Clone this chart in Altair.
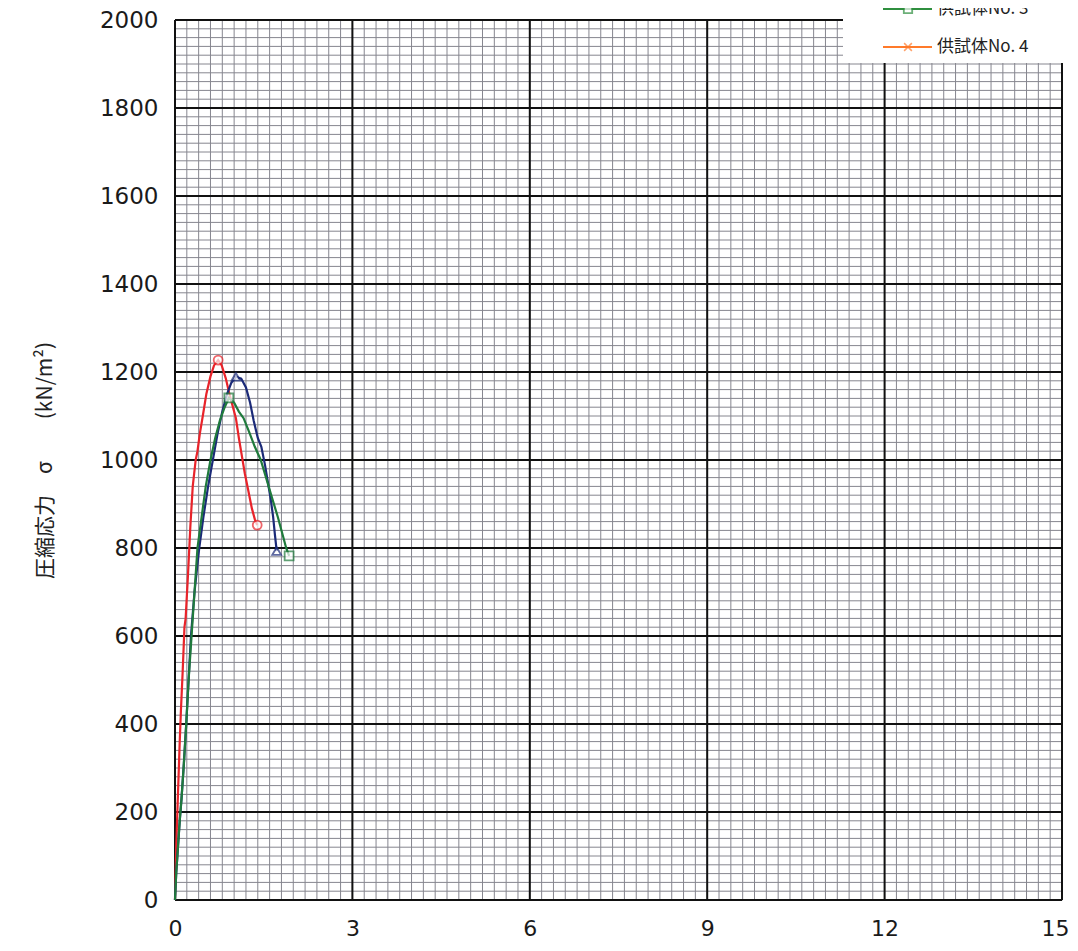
import altair as alt
import pandas as pd
import numpy as np

# ---- data (strain %, stress kN/m2) ----
red_x = [0, 0.01, 0.02, 0.04, 0.06, 0.08, 0.10, 0.13, 0.16, 0.18, 0.22, 0.26, 0.30, 0.35, 0.38, 0.42, 0.47, 0.53, 0.60, 0.66, 0.73,
         0.79, 0.86, 0.92, 0.98, 1.03, 1.08, 1.13, 1.18, 1.24, 1.30, 1.35, 1.39]
red_y = [0, 60, 120, 200, 280, 360, 430, 520, 620, 640, 740, 850, 940, 1000, 1020, 1060, 1100, 1150, 1190, 1215, 1227,
         1215, 1185, 1150, 1120, 1095, 1050, 1010, 970, 930, 890, 865, 852]

blue_x = [0, 0.02, 0.05, 0.08, 0.11, 0.15, 0.19, 0.23, 0.27, 0.33, 0.41, 0.48, 0.56, 0.64, 0.72, 0.80, 0.88, 0.95, 1.03,
          1.12, 1.20, 1.27, 1.33, 1.40, 1.46, 1.52, 1.57, 1.62, 1.66, 1.69, 1.72]
blue_y = [0, 60, 120, 180, 230, 310, 400, 500, 600, 700, 800, 870, 940, 1000, 1060, 1110, 1150, 1175, 1189,
          1185, 1165, 1130, 1090, 1050, 1030, 990, 950, 910, 870, 830, 793]

green_x = [0, 0.02, 0.05, 0.08, 0.11, 0.15, 0.19, 0.23, 0.28, 0.33, 0.38, 0.45, 0.52, 0.60, 0.68, 0.76, 0.84, 0.91,
           1.00, 1.08, 1.16, 1.25, 1.35, 1.45, 1.55, 1.65, 1.74, 1.82, 1.88, 1.93]
green_y = [0, 60, 120, 180, 230, 310, 400, 500, 600, 700, 800, 870, 940, 1000, 1050, 1090, 1120, 1141,
           1130, 1110, 1095, 1065, 1030, 1000, 955, 910, 870, 830, 800, 782]

series = ["No1", "No2", "No3"]
colors = ["#e8232a", "#1b2a78", "#1f7a3c"]
shapes = ["circle", "triangle-up", "square"]

x_ticks = [0, 3, 6, 9, 12, 15]
y_ticks = list(range(0, 2001, 200))

legend_labels = ["供試体No. 3", "供試体No. 4"]
legend_colors = ["#2f8f3f", "#ff7a2a"]

# ---- tables ----
rows = []
for name, xs, ys in zip(series, [red_x, blue_x, green_x], [red_y, blue_y, green_y]):
    for i, (xv, yv) in enumerate(zip(xs, ys)):
        rows.append({"s": name, "i": i, "x": xv, "y": yv})
df = pd.DataFrame(rows)

mk = []
for name, xs, ys in zip(series, [red_x, blue_x, green_x], [red_y, blue_y, green_y]):
    k = int(np.argmax(ys))
    mk.append({"s": name, "x": xs[k], "y": ys[k]})
    mk.append({"s": name, "x": xs[-1], "y": ys[-1]})
mk = pd.DataFrame(mk)

minor_x = pd.DataFrame({"x": np.round(np.arange(0, 15.001, 0.2), 3)})
minor_y = pd.DataFrame({"y": np.arange(0, 2001, 20)})
major_x = pd.DataFrame({"x": x_ticks})
major_y = pd.DataFrame({"y": y_ticks})

xs_ = alt.Scale(domain=[0, 15], nice=False, zero=False)
ys_ = alt.Scale(domain=[0, 2000], nice=False)
cscale = alt.Scale(domain=series, range=colors)

x_axis = alt.Axis(values=x_ticks, title=None, grid=False, ticks=False, domain=False,
                  labelFontSize=22, labelFont="DejaVu Sans", labelColor="#1a1a1a",
                  labelPadding=18, labelFlush=False,
                  labelOffset={"condition": {"test": "datum.value == 15", "value": -7}, "value": 0})
y_axis = alt.Axis(values=y_ticks, format="d", title="圧縮応力　σ　　(kN/m²)",
                  grid=False, ticks=False, domain=False,
                  labelFontSize=23, labelFont="DejaVu Sans", labelColor="#1a1a1a",
                  labelPadding=17, titleFont="Noto Sans CJK JP", titleFontSize=21,
                  titleFontWeight="normal", titleColor="#222222", titleAngle=270,
                  titleX=-130, titleY=440, titleAlign="center", titleBaseline="middle")

X = alt.X("x:Q", scale=xs_, axis=x_axis)
Y = alt.Y("y:Q", scale=ys_, axis=y_axis)

g1 = alt.Chart(minor_x).mark_rule(color="#86868f", strokeWidth=1).encode(x=X)
g2 = alt.Chart(minor_y).mark_rule(color="#86868f", strokeWidth=1).encode(y=Y)
g3 = alt.Chart(major_x).mark_rule(color="#111111", strokeWidth=2).encode(x=X)
g4 = alt.Chart(major_y).mark_rule(color="#111111", strokeWidth=2).encode(y=Y)

lines = alt.Chart(df).mark_line(strokeWidth=2.2).encode(
    x=X, y=Y,
    color=alt.Color("s:N", scale=cscale, legend=None),
    detail="s:N",
    order=alt.Order("i:Q"),
)

points = alt.Chart(mk).mark_point(filled=False, fill="white", size=80, strokeWidth=1.8).encode(
    x=X, y=Y,
    color=alt.Color("s:N", scale=cscale, legend=None),
    shape=alt.Shape("s:N", scale=alt.Scale(domain=series, range=shapes), legend=None),
)

# ---- legend (partially cut at the top, as in the reference) ----
lg = pd.DataFrame({"label": legend_labels, "c": legend_colors, "py": [-11, 27]})
box = alt.Chart(lg).mark_rect(fill="white").encode(
    x=alt.value(668), x2=alt.value(900), y=alt.value(-12), y2=alt.value(43))
lg_line = alt.Chart(lg).mark_rule(strokeWidth=2).encode(
    x=alt.value(708), x2=alt.value(757), y=alt.Y("py:Q", scale=None),
    color=alt.Color("c:N", scale=None))
lg_sq = alt.Chart(lg.iloc[[0]]).mark_point(shape="square", filled=False, fill="white",
                                            size=70, strokeWidth=1.8).encode(
    x=alt.value(733), y=alt.Y("py:Q", scale=None), color=alt.Color("c:N", scale=None))
lg_x = alt.Chart(lg.iloc[[1]]).mark_point(shape="M-1,-1L1,1M-1,1L1,-1", filled=False,
                                           size=60, strokeWidth=1.5).encode(
    x=alt.value(733), y=alt.Y("py:Q", scale=None), color=alt.Color("c:N", scale=None))
lg_txt = alt.Chart(lg).mark_text(align="left", baseline="middle", font="Noto Sans CJK JP",
                                 fontSize=17, color="#222222").encode(
    x=alt.value(762), y=alt.Y("py:Q", scale=None), text="label:N")

chart = alt.layer(g1, g2, g3, g4, lines, points, box, lg_line, lg_sq, lg_x, lg_txt).properties(
    width=887, height=880,
    padding={"left": 167, "top": 12, "right": 8, "bottom": 43},
    autosize=alt.AutoSizeParams(type="none"),
).configure_view(stroke=None).configure(background="white")

chart.save("out.html", embed_options={"renderer": "svg", "actions": False})
